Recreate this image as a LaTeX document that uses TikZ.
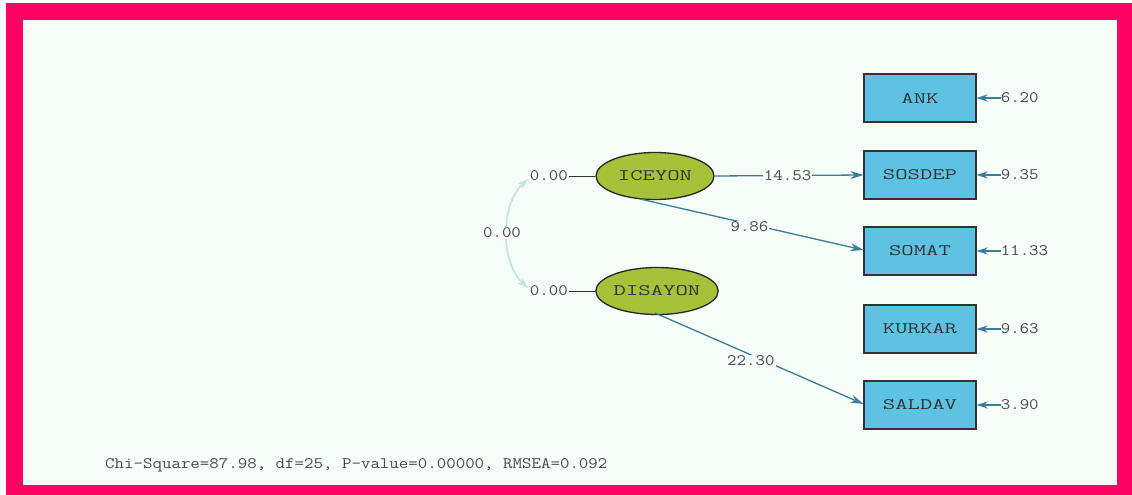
\documentclass[tikz,border=0pt]{standalone}
\usepackage{fontspec}
\newfontfamily\valfont[FakeStretch=1.15]{Latin Modern Mono}
\newfontfamily\labfont[FakeStretch=1.5]{Latin Modern Mono}
\usetikzlibrary{arrows.meta,shapes.geometric,calc}
\definecolor{frame}{HTML}{FF0063}
\definecolor{paper}{HTML}{F6FCF7}
\definecolor{latent}{HTML}{A6C23A}
\definecolor{obs}{HTML}{5EC3E3}
\definecolor{pathc}{HTML}{3A7C9C}
\definecolor{txt}{HTML}{4A4A4A}
\definecolor{covc}{HTML}{BDE6DF}
\tikzset{
  lat/.style={ellipse,draw=black!85,line width=1.3pt,fill=latent,minimum width=118pt,minimum height=47pt,inner sep=0pt,font=\labfont\fontsize{16}{16}\selectfont,text=black!80},
  ob/.style={rectangle,draw=black!80,line width=1.2pt,fill=obs,minimum width=112pt,minimum height=48pt,inner sep=0pt,font=\labfont\fontsize{16}{16}\selectfont,text=black!80},
  val/.style={font=\valfont\fontsize{16}{16}\selectfont,text=txt,inner sep=1pt},
  path/.style={draw=pathc,line width=1.3pt,-{Stealth[length=13pt,width=8pt]}},
  err/.style={draw=pathc,line width=2pt,-{Stealth[length=11pt,width=7pt]}},
}
\begin{document}
\begin{tikzpicture}[x=1pt,y=-1pt]
\useasboundingbox (0,0) rectangle (1132,495);
\fill[white] (0,0) rectangle (1132,495);
\fill[frame] (6,3) rectangle (1132,495);
\fill[paper] (23,20) rectangle (1117,485);

\node[lat] (ice) at (655,176) {ICEYON};
\node[lat] (dis) at (657,291) {DISAYON};

\node[ob] (ank) at (920,98) {ANK};
\node[ob] (sos) at (920,175) {SOSDEP};
\node[ob] (som) at (920,251) {SOMAT};
\node[ob] (kur) at (920,329) {KURKAR};
\node[ob] (sal) at (920,405) {SALDAV};

% variances of latent
\node[val,anchor=east] (vi) at (569,176) {0.00};
\node[val,anchor=east] (vd) at (569,291) {0.00};
\draw[black!80,line width=1pt] (vi.east) -- (ice.west);
\draw[black!80,line width=1pt] (vd.east) -- (dis.west);
\coordinate (ct) at (528,179);
\coordinate (cb) at (528,288);
\draw[covc,line width=1.6pt,{Stealth[length=11pt,width=7pt]}-{Stealth[length=11pt,width=7pt]}] (ct) .. controls (500,205) and (500,262) .. (cb);
\node[val,fill=paper] (cv) at (502,233) {0.00};

% paths
\coordinate (iceb) at (640,199);
\coordinate (disb) at (655,313);
\coordinate (somw) at ($(som.west)+(0,-1)$);
\coordinate (salw) at ($(sal.west)+(0,-1)$);
\draw[path] (ice.east) -- node[val,fill=paper,pos=0.49] {14.53} (sos.west);
\draw[path] (iceb) -- node[val,fill=paper,pos=0.49,yshift=-3pt] {9.86} (somw);
\draw[path] (disb) -- node[val,fill=paper,pos=0.46,yshift=-6pt] {22.30} (salw);

% errors
\foreach \n/\v in {ank/6.20,sos/9.35,som/11.33,kur/9.63,sal/3.90}{
  \node[val,anchor=west,inner sep=0pt] (e\n) at ($(\n.east)+(24,0)$) {\v};
  \draw[err] (e\n.west) -- (\n.east);
}

\node[val,anchor=west] (fit) at (104,465) {Chi-Square=87.98, df=25, P-value=0.00000, RMSEA=0.092};
\end{tikzpicture}
\end{document}
